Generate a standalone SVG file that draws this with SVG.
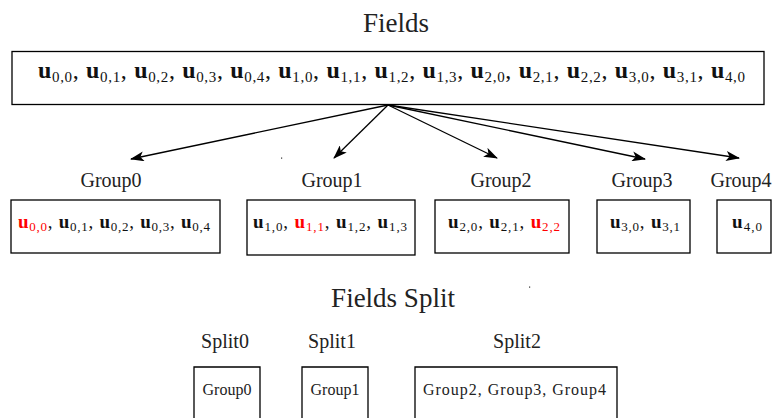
<svg xmlns="http://www.w3.org/2000/svg" width="776" height="418" viewBox="0 0 776 418" font-family="'Liberation Serif', 'DejaVu Serif', serif">
  <style>
    .box { fill: #ffffff; stroke: #000000; stroke-width: 1.3; }
    .title { font-size: 27px; fill: #222; text-anchor: middle; }
    .label { font-size: 20px; fill: #222; text-anchor: middle; }
    .math { fill: #111; }
    .u { font-weight: bold; }
    .red { fill: #ff0000; }
    .small { font-size: 16px; fill: #222; text-anchor: middle; }
    .edge { stroke: #000000; stroke-width: 1.3; fill: none; marker-end: url(#stealth); }
  </style>
  <defs>
    <marker id="stealth" viewBox="0 0 14 10" refX="13" refY="5" markerWidth="14" markerHeight="10" markerUnits="userSpaceOnUse" orient="auto">
      <path d="M0,0 L14,5 L0,10 L3.5,5 z" fill="#000"/>
    </marker>
  </defs>

  <rect width="776" height="418" fill="#ffffff"/>

  <!-- Fields section -->
  <text class="title" x="396" y="32">Fields</text>

  <g id="fields">
    <rect class="box" x="12" y="51.5" width="752" height="53"/>
    <text class="math" x="38" y="78" font-size="24" textLength="707" lengthAdjust="spacing"><tspan class="u">u</tspan><tspan font-size="15" dy="4">0,0</tspan><tspan dy="-4">, </tspan><tspan class="u">u</tspan><tspan font-size="15" dy="4">0,1</tspan><tspan dy="-4">, </tspan><tspan class="u">u</tspan><tspan font-size="15" dy="4">0,2</tspan><tspan dy="-4">, </tspan><tspan class="u">u</tspan><tspan font-size="15" dy="4">0,3</tspan><tspan dy="-4">, </tspan><tspan class="u">u</tspan><tspan font-size="15" dy="4">0,4</tspan><tspan dy="-4">, </tspan><tspan class="u">u</tspan><tspan font-size="15" dy="4">1,0</tspan><tspan dy="-4">, </tspan><tspan class="u">u</tspan><tspan font-size="15" dy="4">1,1</tspan><tspan dy="-4">, </tspan><tspan class="u">u</tspan><tspan font-size="15" dy="4">1,2</tspan><tspan dy="-4">, </tspan><tspan class="u">u</tspan><tspan font-size="15" dy="4">1,3</tspan><tspan dy="-4">, </tspan><tspan class="u">u</tspan><tspan font-size="15" dy="4">2,0</tspan><tspan dy="-4">, </tspan><tspan class="u">u</tspan><tspan font-size="15" dy="4">2,1</tspan><tspan dy="-4">, </tspan><tspan class="u">u</tspan><tspan font-size="15" dy="4">2,2</tspan><tspan dy="-4">, </tspan><tspan class="u">u</tspan><tspan font-size="15" dy="4">3,0</tspan><tspan dy="-4">, </tspan><tspan class="u">u</tspan><tspan font-size="15" dy="4">3,1</tspan><tspan dy="-4">, </tspan><tspan class="u">u</tspan><tspan font-size="15" dy="4">4,0</tspan></text>
  </g>

  <!-- connectors from the field list to each group -->
  <g id="connectors">
    <line class="edge" x1="388" y1="105" x2="131" y2="159"/>
    <line class="edge" x1="388" y1="105" x2="334" y2="158"/>
    <line class="edge" x1="388" y1="105" x2="497" y2="158"/>
    <line class="edge" x1="388" y1="105" x2="645" y2="159"/>
    <line class="edge" x1="388" y1="105" x2="739" y2="158"/>
  </g>

  <!-- stray specks -->
  <rect x="281" y="157.5" width="1.2" height="1.2" fill="#333"/>
  <rect x="529" y="286.5" width="1.2" height="1.2" fill="#333"/>

  <g id="group0">
    <text class="label" x="111" y="187">Group0</text>
    <rect class="box" x="11" y="200" width="209" height="53"/>
    <text class="math" x="18" y="228" font-size="19" textLength="192" lengthAdjust="spacing"><tspan class="u red">u</tspan><tspan class="red" font-size="13" dy="3">0,0</tspan><tspan dy="-3">, </tspan><tspan class="u">u</tspan><tspan font-size="13" dy="3">0,1</tspan><tspan dy="-3">, </tspan><tspan class="u">u</tspan><tspan font-size="13" dy="3">0,2</tspan><tspan dy="-3">, </tspan><tspan class="u">u</tspan><tspan font-size="13" dy="3">0,3</tspan><tspan dy="-3">, </tspan><tspan class="u">u</tspan><tspan font-size="13" dy="3">0,4</tspan></text>
  </g>

  <g id="group1">
    <text class="label" x="332" y="187">Group1</text>
    <rect class="box" x="247" y="200" width="168" height="55"/>
    <text class="math" x="253" y="228" font-size="19" textLength="154" lengthAdjust="spacing"><tspan class="u">u</tspan><tspan font-size="13" dy="3">1,0</tspan><tspan dy="-3">, </tspan><tspan class="u red">u</tspan><tspan class="red" font-size="13" dy="3">1,1</tspan><tspan dy="-3">, </tspan><tspan class="u">u</tspan><tspan font-size="13" dy="3">1,2</tspan><tspan dy="-3">, </tspan><tspan class="u">u</tspan><tspan font-size="13" dy="3">1,3</tspan></text>
  </g>

  <g id="group2">
    <text class="label" x="501" y="187">Group2</text>
    <rect class="box" x="435" y="200" width="134" height="53"/>
    <text class="math" x="448" y="228" font-size="19" textLength="112" lengthAdjust="spacing"><tspan class="u">u</tspan><tspan font-size="13" dy="3">2,0</tspan><tspan dy="-3">, </tspan><tspan class="u">u</tspan><tspan font-size="13" dy="3">2,1</tspan><tspan dy="-3">, </tspan><tspan class="u red">u</tspan><tspan class="red" font-size="13" dy="3">2,2</tspan></text>
  </g>

  <g id="group3">
    <text class="label" x="642" y="187">Group3</text>
    <rect class="box" x="597" y="200" width="93" height="53"/>
    <text class="math" x="610" y="228" font-size="19" textLength="70" lengthAdjust="spacing"><tspan class="u">u</tspan><tspan font-size="13" dy="3">3,0</tspan><tspan dy="-3">, </tspan><tspan class="u">u</tspan><tspan font-size="13" dy="3">3,1</tspan></text>
  </g>

  <g id="group4">
    <text class="label" x="741" y="187">Group4</text>
    <rect class="box" x="717" y="200" width="54" height="53"/>
    <text class="math" x="732" y="228" font-size="19" textLength="30" lengthAdjust="spacing"><tspan class="u">u</tspan><tspan font-size="13" dy="3">4,0</tspan></text>
  </g>

  <!-- Fields Split section -->
  <text class="title" x="393" y="307">Fields Split</text>

  <g id="split0">
    <text class="label" x="225" y="348">Split0</text>
    <path class="box" d="M194,422 V367 H260 V422"/>
    <text class="small" x="227" y="395">Group0</text>
  </g>

  <g id="split1">
    <text class="label" x="332" y="348">Split1</text>
    <path class="box" d="M302,422 V367 H368 V422"/>
    <text class="small" x="335" y="395">Group1</text>
  </g>

  <g id="split2">
    <text class="label" x="517" y="348">Split2</text>
    <path class="box" d="M415,422 V367 H617 V422"/>
    <text class="small" x="514.5" y="395" textLength="183" lengthAdjust="spacing">Group2, Group3, Group4</text>
  </g>
</svg>
